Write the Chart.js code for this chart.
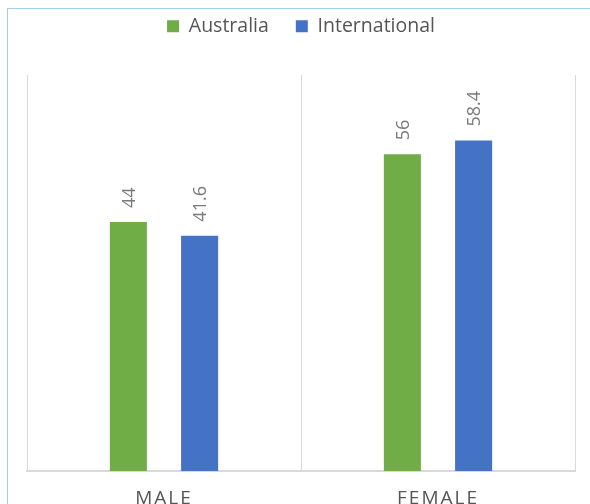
<!DOCTYPE html>
<html>
<head>
<meta charset="utf-8">
<script src="https://cdn.jsdelivr.net/npm/chart.js@4/dist/chart.umd.min.js"></script>
<style>
  html, body { margin: 0; padding: 0; background: #ffffff; }
  #wrap { position: relative; width: 590px; height: 504px; overflow: hidden; }
  #frame {
    position: absolute; left: 7px; top: 8px; width: 600px; height: 520px;
    border-left: 1px solid #9dd1e9; border-top: 1px solid #9dd1e9;
    pointer-events: none;
  }
</style>
</head>
<body>
<div id="wrap">
  <canvas id="chart" width="590" height="504"></canvas>
  <div id="frame"></div>
</div>
<script>
  const categories = ["MALE", "FEMALE"];
  const australia = [44, 56];
  const international = [41.6, 58.4];
  const Y_MIN = 0;
  const Y_MAX = 70;

  const GREEN = "#70ad47";
  const BLUE = "#4472c4";
  const TEXT_DARK = "#555555";
  const TEXT_LABEL = "#7a7a7a";
  const GRID = "#d9d9d9";
  const FONT = "'Open Sans', 'Noto Sans', sans-serif";

  // legend block is taller than its one row, the plot starts lower
  const LEGEND_HEIGHT = 85.5;

  const layoutTweaks = {
    id: "layoutTweaks",
    beforeLayout(chart) {
      const legend = chart.legend;
      if (legend && !legend._fixedHeight) {
        const fit = legend.fit;
        legend.fit = function () {
          fit.call(this);
          this.height = LEGEND_HEIGHT;
        };
        legend._fixedHeight = true;
      }
    },
    beforeDraw(chart) {
      const x = chart.scales.x;
      if (x && !x._spaced) {
        const drawLabels = x.drawLabels;
        x.drawLabels = function (area) {
          this.ctx.save();
          this.ctx.letterSpacing = "2px";
          drawLabels.call(this, area);
          this.ctx.restore();
        };
        x._spaced = true;
      }
    },
  };

  const barValueLabels = {
    id: "barValueLabels",
    afterDatasetsDraw(chart) {
      const ctx = chart.ctx;
      ctx.save();
      ctx.fillStyle = TEXT_LABEL;
      ctx.font = "18px " + FONT;
      ctx.textAlign = "left";
      ctx.textBaseline = "middle";
      chart.data.datasets.forEach((ds, i) => {
        chart.getDatasetMeta(i).data.forEach((bar, j) => {
          ctx.save();
          ctx.translate(bar.x + 1, bar.y - 14);
          ctx.rotate(-Math.PI / 2);
          ctx.fillText(String(ds.data[j]), 0, 0);
          ctx.restore();
        });
      });
      ctx.restore();
    },
  };

  new Chart(document.getElementById("chart"), {
    type: "bar",
    data: {
      labels: categories,
      datasets: [
        {
          label: "Australia",
          data: australia,
          backgroundColor: GREEN,
          borderWidth: 0,
          categoryPercentage: 0.52,
          barPercentage: 0.52,
        },
        {
          label: "International",
          data: international,
          backgroundColor: BLUE,
          borderWidth: 0,
          categoryPercentage: 0.52,
          barPercentage: 0.52,
        },
      ],
    },
    options: {
      responsive: false,
      animation: false,
      layout: {
        padding: { top: -10.5, left: 27, right: 15, bottom: 0 },
      },
      plugins: {
        legend: {
          position: "top",
          labels: {
            boxWidth: 12,
            boxHeight: 12,
            padding: 27,
            color: TEXT_DARK,
            font: { family: FONT, size: 19.5 },
          },
        },
        tooltip: { enabled: false },
      },
      scales: {
        x: {
          grid: {
            color: GRID,
            lineWidth: 1,
            drawTicks: false,
            offset: true,
          },
          border: { color: GRID, width: 2 },
          ticks: {
            color: TEXT_DARK,
            padding: 16,
            font: { family: FONT, size: 19 },
          },
          afterFit(scale) {
            scale.height = 33;
          },
        },
        y: {
          display: false,
          min: Y_MIN,
          max: Y_MAX,
        },
      },
    },
    plugins: [layoutTweaks, barValueLabels],
  });
</script>
</body>
</html>
